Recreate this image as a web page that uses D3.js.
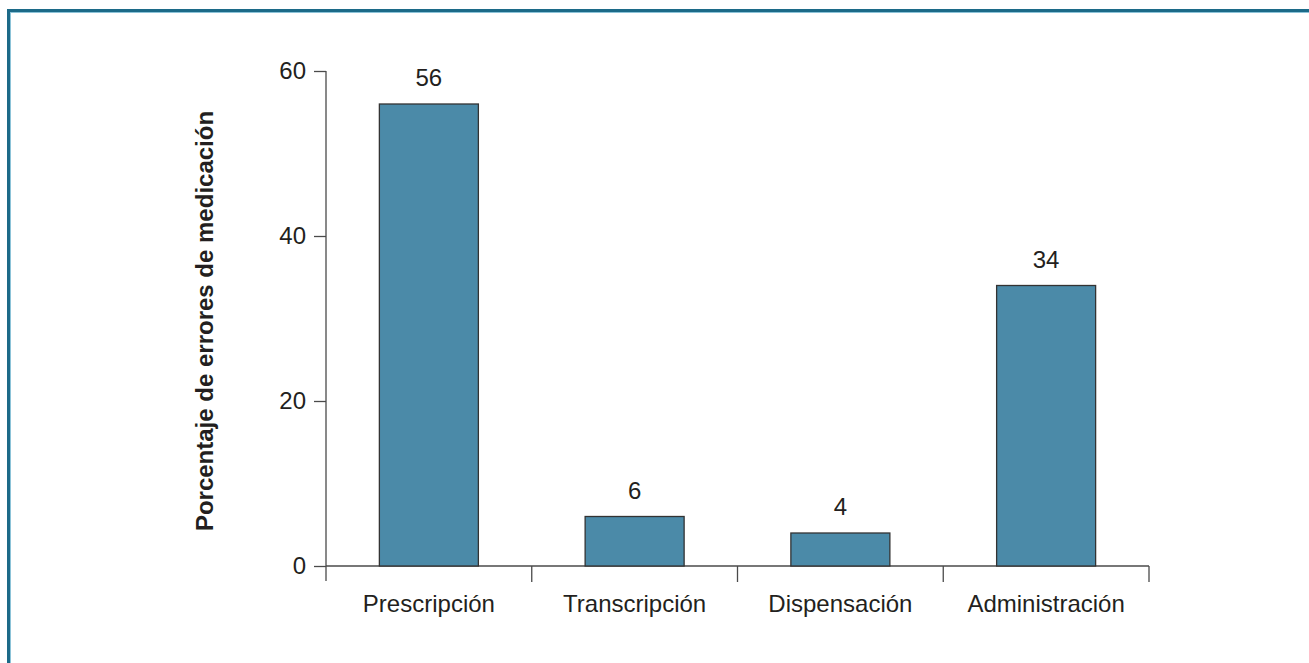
<!DOCTYPE html>
<html>
<head>
<meta charset="utf-8">
<script src="https://cdn.jsdelivr.net/npm/d3@7"></script>
<style>
  html, body { margin: 0; padding: 0; background: #fff; }
  svg { display: block; font-family: "Liberation Sans", Arial, sans-serif; }
</style>
</head>
<body>
<svg id="chart" width="1309" height="663"></svg>
<script>
// Etapas del proceso de medicación y porcentaje de errores en cada una
const categories = ["Prescripción", "Transcripción", "Dispensación", "Administración"];
const values = [56, 6, 4, 34];
const yTicks = [0, 20, 40, 60];
const yTitle = "Porcentaje de errores de medicación";

const svg = d3.select("#chart");
const W = 1309, H = 663;
const fontFamily = "'Liberation Sans', Arial, sans-serif";
const fontSize = "24px";

// Marco exterior
svg.append("rect")
  .attr("x", 8.5).attr("y", 10.5)
  .attr("width", W + 10).attr("height", H + 10)
  .attr("fill", "none").attr("stroke", "#1c6a88").attr("stroke-width", 3);
svg.append("rect")
  .attr("x", 10.5).attr("y", 12.5)
  .attr("width", W + 10).attr("height", H + 10)
  .attr("fill", "none").attr("stroke", "#8cc3d8").attr("stroke-width", 1);

const x0 = 326, x1 = 1149;
const yBase = 566, yTop = 71;

const x = d3.scaleBand().domain(categories).range([x0, x1]).paddingInner(0).paddingOuter(0);
const y = d3.scaleLinear().domain([0, 60]).range([yBase, yTop]);

const axisColor = "#4a4a4a";
const textColor = "#231f20";
const g = svg.append("g");

// Eje Y
const yAxis = g.append("g")
  .attr("transform", `translate(${x0},0)`)
  .call(d3.axisLeft(y).tickValues(yTicks).tickSize(12).tickPadding(8).tickFormat(d3.format("d")));
yAxis.select(".domain").remove();
yAxis.selectAll(".tick line").attr("stroke", axisColor).attr("stroke-width", 1.3);
yAxis.selectAll(".tick text").attr("fill", textColor)
  .style("font-size", fontSize).style("font-family", fontFamily);
g.append("line")
  .attr("x1", x0).attr("x2", x0)
  .attr("y1", y(60)).attr("y2", yBase + 15)
  .attr("stroke", axisColor).attr("stroke-width", 1.3);

// Eje X
const xAxis = g.append("g")
  .attr("transform", `translate(0,${yBase})`)
  .call(d3.axisBottom(x).tickSize(0).tickPadding(29));
xAxis.select(".domain").remove();
xAxis.selectAll(".tick text").attr("fill", textColor)
  .style("font-size", fontSize).style("font-family", fontFamily);
g.append("line")
  .attr("x1", x0).attr("x2", x1)
  .attr("y1", yBase).attr("y2", yBase)
  .attr("stroke", axisColor).attr("stroke-width", 1.3);
// Separadores entre categorías
const seps = categories.map(c => x(c)).concat([x1]);
g.selectAll("line.sep").data(seps.slice(1)).join("line")
  .attr("class", "sep")
  .attr("x1", d => d).attr("x2", d => d)
  .attr("y1", yBase).attr("y2", yBase + 16)
  .attr("stroke", axisColor).attr("stroke-width", 1.3);

// Barras
const barW = 99;
g.selectAll("rect.bar").data(values).join("rect")
  .attr("class", "bar")
  .attr("x", (d, i) => x(categories[i]) + x.bandwidth() / 2 - barW / 2)
  .attr("y", d => y(d))
  .attr("width", barW)
  .attr("height", d => yBase - y(d))
  .attr("fill", "#4b8aa8")
  .attr("stroke", "#333333").attr("stroke-width", 1.3);

// Etiquetas de valor
g.selectAll("text.val").data(values).join("text")
  .attr("class", "val")
  .attr("x", (d, i) => x(categories[i]) + x.bandwidth() / 2)
  .attr("y", d => y(d) - 18)
  .attr("text-anchor", "middle")
  .attr("fill", textColor)
  .style("font-size", fontSize)
  .text(d => d);

// Título del eje Y
svg.append("text")
  .attr("transform", `translate(213,321) rotate(-90)`)
  .attr("text-anchor", "middle")
  .attr("fill", textColor)
  .style("font-size", fontSize)
  .style("font-weight", "bold")
  .text(yTitle);
</script>
</body>
</html>
